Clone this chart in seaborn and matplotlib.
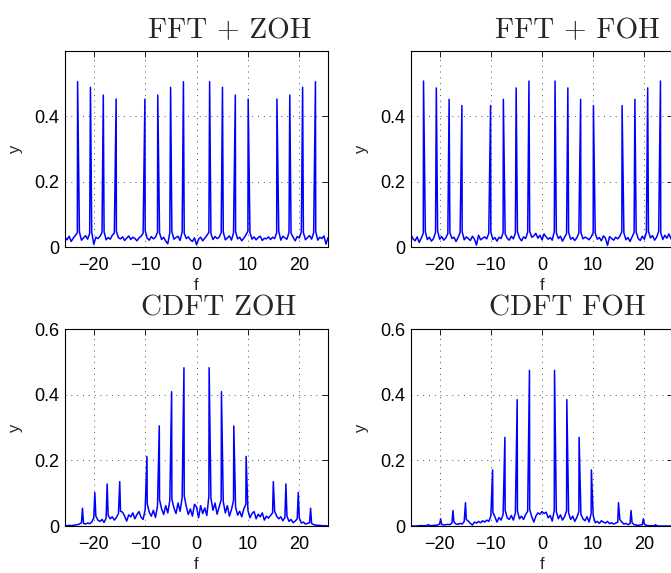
import numpy as np
import pandas as pd
import seaborn as sns
import matplotlib.pyplot as plt

# frequency span of every panel
f_min, f_max = -25.6, 25.6

# noise floor of each spectrum, in thousandths, on an even grid over the span
fft_zoh_floor = [
    30, 22, 33, 17, 27, 35, 44, 46, 21, 28,
    35, 24, 42, 45, 8, 30, 26, 33, 44, 47,
    22, 29, 24, 36, 43, 48, 28, 25, 31, 20,
    27, 34, 23, 30, 26, 19, 28, 33, 42, 50,
    27, 21, 32, 25, 30, 45, 43, 23, 30, 18,
    10, 44, 47, 24, 29, 33, 20, 46, 42, 26,
    31, 22, 17, 28, 7, 24, 30, 19, 27, 35,
    45, 41, 23, 32, 26, 30, 44, 46, 22, 28,
    34, 21, 43, 47, 25, 30, 19, 27, 37, 48,
    44, 24, 31, 22, 29, 33, 20, 27, 25, 31,
    23, 30, 26, 43, 49, 21, 33, 28, 24, 45,
    42, 30, 19, 32, 28, 46, 44, 22, 29, 35,
    24, 44, 47, 21, 30, 26, 34, 9, 29]
fft_foh_floor = [
    38, 25, 19, 31, 14, 27, 42, 47, 23, 30,
    18, 26, 45, 50, 24, 32, 21, 28, 41, 44,
    26, 30, 17, 29, 44, 47, 22, 31, 26, 20,
    33, 24, 6, 36, 22, 27, 31, 25, 42, 46,
    23, 29, 18, 30, 26, 44, 40, 27, 21, 33,
    25, 43, 47, 28, 19, 31, 26, 45, 48, 30,
    34, 42, 27, 36, 22, 40, 31, 24, 29, 21,
    47, 44, 26, 33, 18, 30, 41, 45, 24, 29,
    20, 28, 43, 45, 25, 30, 27, 22, 31, 44,
    42, 24, 29, 19, 34, 27, 5, 32, 26, 21,
    30, 25, 33, 47, 43, 22, 29, 17, 31, 44,
    46, 26, 20, 33, 24, 45, 48, 28, 35, 21,
    30, 48, 44, 23, 36, 27, 40, 25, 32]
cdft_zoh_floor = [
    1, 1, 2, 1, 2, 3, 4, 6, 10, 8,
    6, 9, 7, 12, 25, 30, 18, 14, 20, 11,
    24, 32, 22, 28, 18, 26, 38, 45, 42, 30,
    15, 34, 28, 40, 22, 35, 44, 27, 20, 50,
    68, 42, 30, 48, 26, 60, 80, 52, 35, 62,
    40, 78, 82, 55, 38, 70, 45, 86, 92, 60,
    35, 52, 30, 66, 58, 25, 62, 38, 55, 32,
    90, 85, 48, 70, 36, 58, 80, 75, 40, 62,
    30, 50, 78, 58, 33, 45, 28, 52, 66, 48,
    25, 38, 44, 22, 36, 28, 40, 18, 30, 24,
    32, 40, 45, 30, 22, 28, 16, 26, 30, 14,
    20, 10, 15, 22, 25, 9, 12, 6, 8, 10,
    8, 4, 3, 2, 2, 1, 1, 1, 0]
cdft_foh_floor = [
    0, 0, 0, 0, 1, 1, 1, 1, 2, 2,
    1, 2, 2, 3, 6, 5, 3, 4, 5, 4,
    9, 12, 6, 5, 8, 6, 14, 20, 15, 8,
    3, 12, 9, 14, 10, 16, 12, 18, 14, 30,
    42, 28, 12, 26, 18, 35, 48, 25, 20, 32,
    18, 40, 46, 22, 30, 20, 35, 45, 50, 28,
    12, 30, 40, 36, 44, 38, 42, 25, 32, 15,
    48, 44, 22, 34, 18, 28, 46, 40, 20, 30,
    14, 26, 44, 36, 22, 16, 28, 12, 38, 32,
    10, 14, 8, 16, 12, 9, 14, 7, 10, 6,
    9, 12, 20, 12, 6, 8, 4, 7, 10, 4,
    3, 2, 3, 4, 6, 2, 1, 1, 1, 1,
    1, 0, 0, 0, 0, 0, 0, 0, 0]

# spectral lines
fft_peak_f = [-23.15, -20.65, -18.15, -15.65, -10.05, -7.55, -5.05, -2.55,
              2.55, 5.05, 7.55, 10.05, 15.65, 18.15, 20.65, 23.15]
fft_zoh_peak_y = [0.506, 0.489, 0.465, 0.453, 0.453, 0.465, 0.489, 0.506,
                  0.506, 0.489, 0.465, 0.453, 0.453, 0.465, 0.489, 0.506]
fft_foh_peak_y = [0.508, 0.487, 0.452, 0.433, 0.433, 0.452, 0.487, 0.508,
                  0.508, 0.487, 0.452, 0.433, 0.433, 0.452, 0.487, 0.508]
cdft_peak_f = [-22.2, -19.8, -17.4, -14.95, -9.65, -7.25, -4.85, -2.45,
               2.45, 4.85, 7.25, 9.65, 14.95, 17.4, 19.8, 22.2]
cdft_zoh_peak_y = [0.054, 0.102, 0.128, 0.135, 0.212, 0.305, 0.409, 0.482,
                   0.482, 0.409, 0.305, 0.212, 0.135, 0.128, 0.102, 0.054]
cdft_foh_peak_y = [0.004, 0.022, 0.047, 0.071, 0.171, 0.270, 0.385, 0.474,
                   0.474, 0.385, 0.270, 0.171, 0.071, 0.047, 0.022, 0.004]

titles = ['FFT + ZOH', 'FFT + FOH', 'CDFT ZOH', 'CDFT FOH']
x_ticks = [-20, -10, 0, 10, 20]
top_y_ticks = [0, 0.2, 0.4]
bottom_y_ticks = [0, 0.2, 0.4, 0.6]


def spectrum(floor, peak_f, peak_y):
    grid = np.linspace(f_min, f_max, len(floor))
    df = pd.DataFrame({'f': np.concatenate([grid, peak_f]),
                       'y': np.concatenate([np.array(floor) / 1000.0, peak_y])})
    return df.sort_values('f').reset_index(drop=True)


sns.set_style('white')
plt.rcParams['font.family'] = ['Liberation Sans', 'DejaVu Sans']

fig = plt.figure(figsize=(6.71, 5.73), dpi=100)

panels = [
    (spectrum(fft_zoh_floor, fft_peak_f, fft_zoh_peak_y), [0.0969, 0.5689, 0.3920, 0.3421], top_y_ticks, 0.627),
    (spectrum(fft_foh_floor, fft_peak_f, fft_foh_peak_y), [0.6125, 0.5689, 0.3905, 0.3421], top_y_ticks, 0.634),
    (spectrum(cdft_zoh_floor, cdft_peak_f, cdft_zoh_peak_y), [0.0969, 0.0820, 0.3920, 0.3438], bottom_y_ticks, 0.586),
    (spectrum(cdft_foh_floor, cdft_peak_f, cdft_foh_peak_y), [0.6125, 0.0820, 0.3905, 0.3438], bottom_y_ticks, 0.595),
]

for (df, pos, yt, tx), title in zip(panels, titles):
    ax = fig.add_axes(pos)
    sns.lineplot(data=df, x='f', y='y', ax=ax, color='#0000ff', lw=1.1,
                 estimator=None, sort=False)
    ax.set_xlim(f_min, f_max)
    ax.set_ylim(0, 0.6)
    ax.set_xticks(x_ticks)
    ax.set_yticks(yt)
    ax.set_yticklabels([f'{v:g}' for v in yt])
    ax.grid(True, linestyle=(0, (1, 5)), color='0.3', lw=0.7)
    ax.tick_params(direction='in', top=True, right=True, length=4, width=0.6,
                   labelsize=13, colors='black')
    ax.tick_params(axis='x', pad=7)
    ax.tick_params(axis='y', pad=4)
    for sp in ax.spines.values():
        sp.set_color('black')
        sp.set_linewidth(0.8)
    ax.set_xlabel('f', fontsize=12, labelpad=3)
    ax.set_ylabel('y', fontsize=12, labelpad=8)
    ax.text(tx, 1.068, title, transform=ax.transAxes, ha='center',
            va='baseline', fontfamily='cmr10', fontsize=21)

fig.savefig('out.png', dpi=100)
